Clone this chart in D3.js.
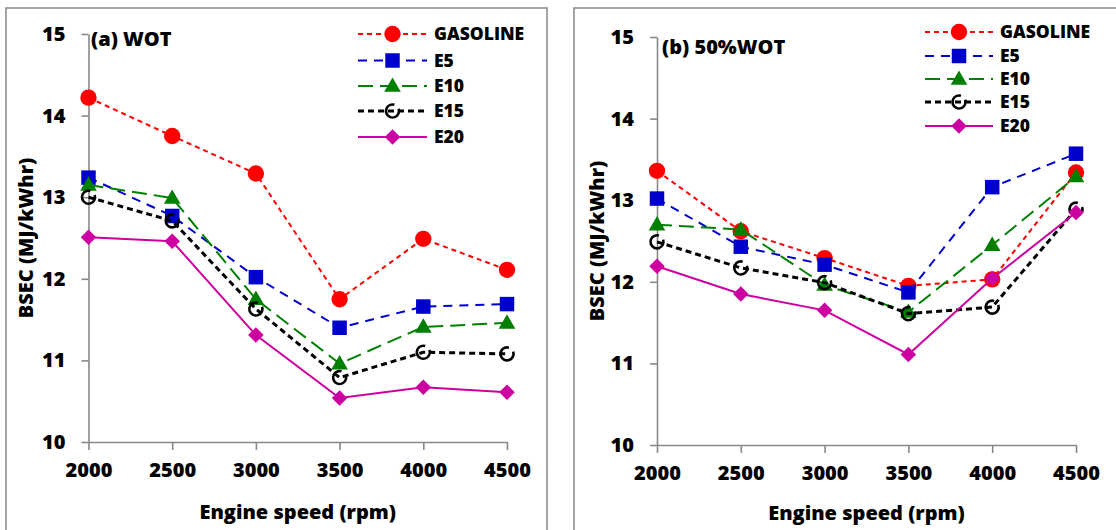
<!DOCTYPE html>
<html>
<head>
<meta charset="utf-8">
<script src="https://cdn.jsdelivr.net/npm/d3@7"></script>
<style>
  html, body { margin: 0; padding: 0; background: #fff; }
  svg { display: block; }
  text { font-family: "Open Sans", sans-serif; font-weight: 800; fill: #000; }
</style>
</head>
<body>
<svg id="chart" width="1116" height="530"></svg>
<script>
// Engine speed (rpm) on the x axis
const speeds = [2000, 2500, 3000, 3500, 4000, 4500];
const yTicks = [10, 11, 12, 13, 14, 15];
const fuels = ["GASOLINE", "E5", "E10", "E15", "E20"];

// BSEC (MJ/kWhr), wide open throttle
const wotGasoline = [14.22, 13.75, 13.29, 11.75, 12.49, 12.11];
const wotE5       = [13.24, 12.77, 12.02, 11.40, 11.66, 11.69];
const wotE10      = [13.15, 12.99, 11.75, 10.96, 11.41, 11.46];
const wotE15      = [13.00, 12.71, 11.63, 10.79, 11.10, 11.08];
const wotE20      = [12.51, 12.46, 11.31, 10.54, 10.67, 10.61];

// BSEC (MJ/kWhr), 50% wide open throttle
const halfGasoline = [13.36, 12.62, 12.29, 11.95, 12.03, 13.34];
const halfE5       = [13.02, 12.43, 12.21, 11.87, 13.16, 13.57];
const halfE10      = [12.70, 12.64, 11.96, 11.63, 12.45, 13.29];
const halfE15      = [12.49, 12.17, 11.99, 11.61, 11.69, 12.89];
const halfE20      = [12.19, 11.85, 11.65, 11.11, 12.04, 12.85];

const styles = {
  GASOLINE: { color: "#FF0000", dash: "5,4", width: 2, marker: "circle" },
  E5:       { color: "#0000CC", dash: "9,7", width: 2, marker: "square" },
  E10:      { color: "#008000", dash: "15,7", width: 2, marker: "triangle" },
  E15:      { color: "#000000", dash: "6,4", width: 3, marker: "ring" },
  E20:      { color: "#CC00A0", dash: null, width: 2, marker: "diamond" }
};

const svg = d3.select("#chart");
const axisGray = "#888888";
const fontSize = "20px";
const legendSize = "17.5px";

function markerPath(kind) {
  if (kind === "circle") return d3.symbol(d3.symbolCircle, 210)();
  if (kind === "square") return d3.symbol(d3.symbolSquare, 210)();
  if (kind === "triangle") return d3.symbol(d3.symbolTriangle, 120)();
  if (kind === "diamond") return d3.symbol(d3.symbolSquare, 120)();
  return null;
}

function drawMarker(g, kind, color, x, y) {
  if (kind === "ring") {
    g.append("circle").attr("cx", x).attr("cy", y).attr("r", 6.5)
      .attr("fill", "none").attr("stroke", color).attr("stroke-width", 2.6)
      .attr("stroke-dasharray", "34,6").attr("transform", `rotate(-20,${x},${y})`);
    return;
  }
  const p = g.append("path").attr("d", markerPath(kind)).attr("fill", color);
  if (kind === "diamond") p.attr("transform", `translate(${x},${y}) rotate(45)`);
  else if (kind === "triangle") p.attr("transform", `translate(${x},${y + 1})`);
  else p.attr("transform", `translate(${x},${y})`);
}

function panel(opts) {
  const { frame, xRange, yRange, title, titlePos, series, legend, yTitleX, xTitleY } = opts;
  const g = svg.append("g");

  // panel border
  g.append("rect").attr("x", frame[0]).attr("y", frame[1])
    .attr("width", frame[2]).attr("height", frame[3])
    .attr("fill", "none").attr("stroke", axisGray).attr("stroke-width", 1.5);

  const x = d3.scaleLinear().domain([2000, 4500]).range(xRange);
  const y = d3.scaleLinear().domain([10, 15]).range(yRange);

  const xAxis = g.append("g").attr("transform", `translate(0,${yRange[0]})`)
    .call(d3.axisBottom(x).tickValues(speeds).tickFormat(d3.format("d"))
      .tickSize(8).tickPadding(13).tickSizeOuter(0));
  const yAxis = g.append("g").attr("transform", `translate(${xRange[0]},0)`)
    .call(d3.axisLeft(y).tickValues(yTicks).tickFormat(d3.format("d"))
      .tickSize(7).tickPadding(16).tickSizeOuter(0));
  [xAxis, yAxis].forEach(a => {
    a.select(".domain").attr("stroke", axisGray).attr("stroke-width", 1.6);
    a.selectAll(".tick line").attr("stroke", axisGray).attr("stroke-width", 1.6);
    a.selectAll(".tick text").style("font-size", fontSize).style("font-family", "'Open Sans', sans-serif")
      .style("font-weight", 800).attr("fill", "#000");
  });

  // axis titles
  g.append("text").attr("x", (xRange[0] + xRange[1]) / 2).attr("y", xTitleY)
    .attr("text-anchor", "middle").style("font-size", fontSize).text("Engine speed (rpm)");
  g.append("text")
    .attr("transform", `translate(${yTitleX},${(yRange[0] + yRange[1]) / 2}) rotate(-90)`)
    .attr("text-anchor", "middle").attr("dy", "0.35em").style("font-size", fontSize)
    .text("BSEC (MJ/kWhr)");

  // panel label
  g.append("text").attr("x", titlePos[0]).attr("y", titlePos[1]).attr("dy", "0.35em")
    .style("font-size", fontSize).text(title);

  // series
  const line = d3.line().x(d => x(d[0])).y(d => y(d[1]));
  fuels.forEach((name, i) => {
    const s = styles[name];
    const pts = speeds.map((sp, j) => [sp, series[i][j]]);
    const sg = g.append("g");
    sg.append("path").attr("d", line(pts)).attr("fill", "none")
      .attr("stroke", s.color).attr("stroke-width", s.width)
      .attr("stroke-dasharray", s.dash);
    pts.forEach(p => drawMarker(sg, s.marker, s.color, x(p[0]), y(p[1])));
  });

  // legend
  fuels.forEach((name, i) => {
    const s = styles[name];
    const ly = legend.rows[i];
    const lg = g.append("g");
    lg.append("line").attr("x1", legend.x0).attr("x2", legend.x1).attr("y1", ly).attr("y2", ly)
      .attr("stroke", s.color).attr("stroke-width", s.width).attr("stroke-dasharray", s.dash);
    drawMarker(lg, s.marker, s.color, (legend.x0 + legend.x1) / 2, ly);
    lg.append("text").attr("x", legend.tx).attr("y", ly).attr("dy", "0.35em")
      .style("font-size", legendSize).text(name);
  });
}

panel({
  frame: [6, 8, 541, 540],
  xRange: [88.5, 507],
  yRange: [442, 34],
  title: "(a) WOT",
  titlePos: [91, 39],
  series: [wotGasoline, wotE5, wotE10, wotE15, wotE20],
  legend: { x0: 358, x1: 427, tx: 434, rows: [34, 60.5, 86, 111, 137] },
  yTitleX: 26,
  xTitleY: 519
});

panel({
  frame: [574, 8, 560, 540],
  xRange: [657, 1076],
  yRange: [445, 37],
  title: "(b) 50%WOT",
  titlePos: [662, 47],
  series: [halfGasoline, halfE5, halfE10, halfE15, halfE20],
  legend: { x0: 925, x1: 993, tx: 1000, rows: [32, 56, 79, 102, 126] },
  yTitleX: 597,
  xTitleY: 520
});
</script>
</body>
</html>
